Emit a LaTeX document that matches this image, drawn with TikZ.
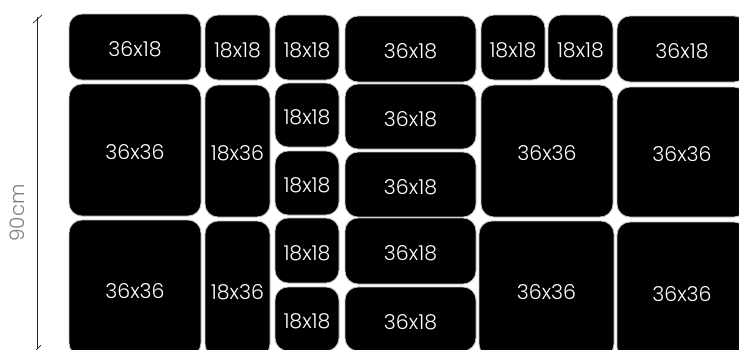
\documentclass[tikz,border=0pt]{standalone}
\usepackage{fontspec}
\setmainfont{Poppins}[UprightFont=* Light]
\newcommand{\Tx}[1]{\raisebox{-2.5pt}[\height][0pt]{#1}}
\begin{document}
\begin{tikzpicture}[x=1pt,y=-1pt,
  tile/.style={fill=black, draw=black!25, line width=0.8pt, rounded corners=13pt,
    text=white, font=\fontsize{20.5}{22}\selectfont, inner sep=0pt},
  dimline/.style={line width=0.7pt, draw=black!85}]
\useasboundingbox (0,0) rectangle (739,349);
\clip (0,0) rectangle (739,349);
% helper: \tile{name}{x1}{x2}{y1}{y2}{text}
\newcommand{\tile}[6]{%
  \pgfmathsetmacro{\cx}{(#2+#3)/2}\pgfmathsetmacro{\cy}{(#4+#5)/2}%
  \pgfmathsetmacro{\w}{#3-#2}\pgfmathsetmacro{\h}{#5-#4}%
  \node[tile, minimum width=\w pt, minimum height=\h pt] (#1) at (\cx,\cy) {\Tx{#6}};}
% row 1
\tile{r1a}{69}{201}{14}{80}{36x18}
\tile{r1b}{205}{270}{15}{80}{18x18}
\tile{r1c}{275}{339}{15}{80}{18x18}
\tile{r1d}{345}{476}{16}{82}{36x18}
\tile{r1e}{481}{545}{15}{80}{18x18}
\tile{r1f}{548}{613}{15}{80}{18x18}
\tile{r1g}{617}{747}{16}{82}{36x18}
% row 2
\tile{r2a}{69}{201}{84}{216}{36x36}
\tile{r2b}{205}{270}{85}{217}{18x36}
\tile{r2c}{275}{339}{83}{147}{18x18}
\tile{r2d}{275}{339}{151}{215}{18x18}
\tile{r2e}{345}{476}{84}{149}{36x18}
\tile{r2f}{345}{476}{152}{217}{36x18}
\tile{r2g}{481}{613}{85}{217}{36x36}
\tile{r2h}{617}{747}{87}{217}{36x36}
% row 3
\tile{r3a}{69}{201}{220}{356}{36x36}
\tile{r3b}{205}{270}{221}{357}{18x36}
\tile{r3c}{275}{339}{218}{283}{18x18}
\tile{r3d}{275}{339}{287}{351}{18x18}
\tile{r3e}{345}{476}{218}{284}{36x18}
\tile{r3f}{345}{476}{287}{351}{36x18}
\tile{r3g}{479}{614}{221}{357}{36x36}
\tile{r3h}{617}{747}{222}{360}{36x36}
% dimension line
\coordinate (dtop) at (37,17);
\coordinate (dbot) at (37,349);
\draw[dimline] (dtop) -- (dbot);
\draw[dimline] ([shift={(-4,6)}]dtop) -- ([shift={(5,-2)}]dtop);
\draw[dimline] ([shift={(-2,2)}]dbot) -- ([shift={(4,-4)}]dbot);
\node[rotate=90, text=black!50, font=\fontsize{20}{22}\selectfont, inner sep=0pt] (lbl) at (17,213) {90cm};
\end{tikzpicture}
\end{document}
